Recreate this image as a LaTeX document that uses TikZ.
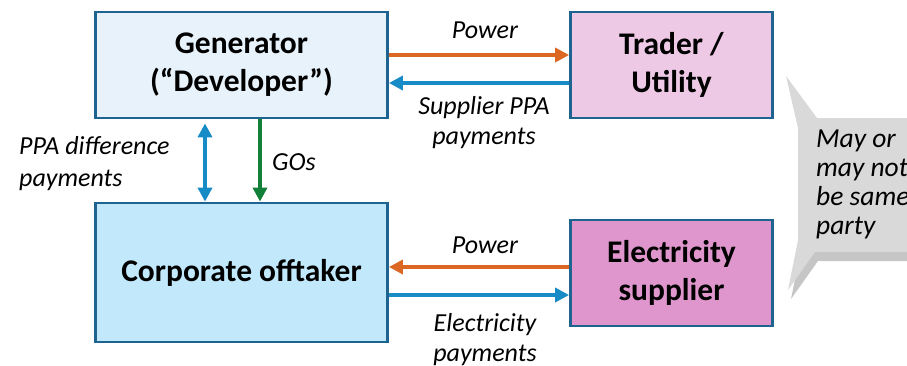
\documentclass[tikz,border=0pt]{standalone}
\usepackage{fontspec}
\setmainfont{Carlito}
\usetikzlibrary{arrows.meta,shadows}
\definecolor{boxborder}{HTML}{1F6391}
\definecolor{genfill}{HTML}{E7F2FA}
\definecolor{tradfill}{HTML}{EEC9E6}
\definecolor{corpfill}{HTML}{C1E9FB}
\definecolor{suppfill}{HTML}{DF96CD}
\definecolor{orangearr}{HTML}{DB6722}
\definecolor{bluearr}{HTML}{168BC6}
\definecolor{greenarr}{HTML}{13803A}
\definecolor{calloutfill}{HTML}{D9D9D9}
\tikzset{
  box/.style={draw=boxborder, line width=2.8pt, inner sep=0pt, align=center,
    font=\fontsize{31.5}{38}\selectfont\bfseries},
  lbl/.style={font=\fontsize{26}{30}\selectfont\itshape, inner sep=0pt, align=center},
  arr/.style={line width=3.8pt, -{Triangle[length=14pt,width=14pt]}},
  darr/.style={line width=3.8pt, {Triangle[length=14pt,width=14pt]}-{Triangle[length=14pt,width=14pt]}},
}
\begin{document}
\begin{tikzpicture}[x=1pt,y=-1pt]
\useasboundingbox (0,0) rectangle (907,365);
\clip (0,0) rectangle (907,365);
% callout
\fill[calloutfill, drop shadow={opacity=0.45, shadow xshift=3pt, shadow yshift=-9pt}]
  (786,76) -- (817,118) -- (925,118) -- (925,252) -- (815,252) -- (788,290)
  -- (798,240) -- (798,128) -- cycle;
\node[lbl, align=left, anchor=west, font=\fontsize{27.5}{29}\selectfont\itshape] (note) at (816,184)
  {May or\\may not\\be same\\party};
% boxes
\node[box, fill=genfill, minimum width=292, minimum height=106] (gen) at (241.5,65) {Generator\\(“Developer”)};
\node[box, fill=tradfill, minimum width=202, minimum height=106] (trad) at (671.5,65) {Trader /\\Utility};
\node[box, fill=corpfill, minimum width=292, minimum height=139] (corp) at (241.5,272.5) {Corporate offtaker};
\node[box, fill=suppfill, minimum width=202, minimum height=106] (supp) at (671.5,273) {Electricity\\supplier};
% top arrows
\draw[arr, orangearr] (gen.east |- 0,55) -- (trad.west |- 0,55);
\draw[arr, bluearr] (trad.west |- 0,83) -- (gen.east |- 0,83);
\node[lbl] (p1) at (485,30) {Power};
\node[lbl] (spp) at (484,123) {Supplier PPA\\payments};
% bottom arrows
\draw[arr, orangearr] (supp.west |- 0,267) -- (corp.east |- 0,267);
\draw[arr, bluearr] (corp.east |- 0,295) -- (supp.west |- 0,295);
\node[lbl] (p2) at (485,245) {Power};
\node[lbl] (ep) at (485,340) {Electricity\\payments};
% vertical arrows
\draw[darr, bluearr, shorten <=4pt] (gen.south -| 205,0) -- (corp.north -| 205,0);
\draw[arr, greenarr] (gen.south -| 260,0) -- (corp.north -| 260,0);
\node[lbl, align=left, anchor=west, font=\fontsize{26}{32}\selectfont\itshape] (ppad) at (19,164) {PPA difference\\payments};
\node[lbl, anchor=west] (gos) at (272,162) {GOs};
\end{tikzpicture}
\end{document}
